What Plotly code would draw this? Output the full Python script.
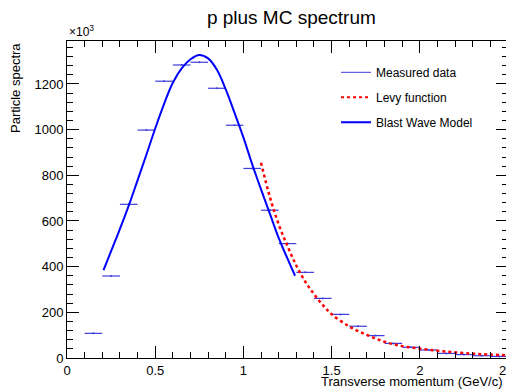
import plotly.graph_objects as go

# Measured data (bin centers, width 0.1 GeV/c), values in units of 10^3
bin_centers = [0.15, 0.25, 0.35, 0.45, 0.55, 0.65, 0.75, 0.85, 0.95, 1.05,
               1.15, 1.25, 1.35, 1.45, 1.55, 1.65, 1.75, 1.85, 1.95, 2.05,
               2.15, 2.25, 2.35, 2.45]
measured = [108, 359, 673, 998, 1212, 1283, 1295, 1181, 1019, 830,
            647, 501, 375, 261, 191, 139, 98, 64, 47, 35,
            20, 15, 10, 7]
bin_half_width = [0.05] * len(bin_centers)

# Levy function curve
levy_x = [1.10, 1.15, 1.20, 1.25, 1.30, 1.35, 1.40, 1.45, 1.50, 1.60,
          1.70, 1.80, 1.90, 2.00, 2.10, 2.20, 2.30, 2.40, 2.50]
levy_y = [855, 705, 585, 490, 405, 335, 280, 232, 192, 138,
          101, 71, 52, 41, 32, 25, 19, 15, 12]

# Blast Wave Model curve
bw_x = [0.207, 0.25, 0.30, 0.35, 0.40, 0.45, 0.50, 0.55, 0.60, 0.65,
        0.70, 0.75, 0.80, 0.85, 0.90, 0.95, 1.00, 1.05, 1.10, 1.15,
        1.20, 1.25, 1.293]
bw_y = [385, 468, 565, 667, 778, 890, 1005, 1112, 1205, 1268,
        1308, 1327, 1312, 1262, 1176, 1073, 966, 848, 738, 632,
        526, 435, 360]

FONT = "Liberation Sans, Arial, Helvetica, sans-serif"
DATA_COLOR = "#3c3cdc"

fig = go.Figure()

fig.add_trace(go.Scatter(
    x=bin_centers, y=measured, mode="markers",
    marker=dict(color=DATA_COLOR, size=2),
    error_x=dict(type="data", array=bin_half_width, color=DATA_COLOR,
                 thickness=1.2, width=0),
    showlegend=False, hoverinfo="x+y"))

fig.add_trace(go.Scatter(
    x=bw_x, y=bw_y, mode="lines", line=dict(color="#0000ff", width=2, shape="spline"),
    showlegend=False))

fig.add_trace(go.Scatter(
    x=levy_x, y=levy_y, mode="lines",
    line=dict(color="#ff0000", width=2.5, dash="dot", shape="spline"),
    showlegend=False))

# legend entries
fig.add_trace(go.Scatter(x=[None], y=[None], mode="lines",
                         line=dict(color=DATA_COLOR, width=1),
                         name="Measured data", legendgroup="a"))
fig.add_trace(go.Scatter(x=[None], y=[None], mode="lines",
                         line=dict(color="#ff0000", width=2, dash="dot"),
                         name="Levy function", legendgroup="b"))
fig.add_trace(go.Scatter(x=[None], y=[None], mode="lines",
                         line=dict(color="#0000ff", width=2),
                         name="Blast Wave Model", legendgroup="c"))

axis_common = dict(
    showline=True, linecolor="black", linewidth=1, mirror="ticks",
    ticks="inside", tickcolor="black", tickwidth=1,
    showgrid=False, zeroline=False, ticklabeloverflow="allow", automargin=False,
    tickfont=dict(family=FONT, size=13, color="black"),
)

fig.update_layout(
    width=506, height=382,
    paper_bgcolor="white", plot_bgcolor="white",
    margin=dict(l=59, r=6, t=33, b=32, autoexpand=False),
    font=dict(family=FONT, color="black"),
    title=dict(text="p plus MC spectrum", x=0.56, xanchor="center",
               y=0.975, yanchor="middle",
               font=dict(family=FONT, size=19, color="black")),
    xaxis=dict(range=[0, 2.5], tickvals=[0, 0.5, 1, 1.5, 2, 2.5],
               ticktext=["0", "0.5", "1", "1.5", "2", "2.5"], ticklen=12,
               minor=dict(ticks="inside", dtick=0.1, ticklen=6, tickcolor="black"),
               **axis_common),
    yaxis=dict(range=[0, 1388], tickvals=[0, 200, 400, 600, 800, 1000, 1200],
               ticklen=12,
               minor=dict(ticks="inside", dtick=40, ticklen=6, tickcolor="black"),
               **axis_common),
    legend=dict(x=0.61, y=0.947, xanchor="left", yanchor="top",
                bgcolor="rgba(0,0,0,0)", tracegroupgap=6,
                font=dict(family=FONT, size=12, color="black")),
    annotations=[
        dict(text="Transverse momentum (GeV/c)", xref="paper", yref="paper",
             x=1.0, y=0, xanchor="right", yanchor="top", yshift=-14, xshift=-3,
             showarrow=False, font=dict(family=FONT, size=13, color="black")),
        dict(text="Particle spectra", xref="paper", yref="paper",
             x=0, y=1.0, xanchor="center", yanchor="top", xshift=-52,
             textangle=-90, showarrow=False,
             font=dict(family=FONT, size=13, color="black")),
        dict(text="×10<sup>3</sup>", xref="paper", yref="paper",
             x=0, y=1.0, xanchor="left", yanchor="bottom", xshift=0,
             showarrow=False, font=dict(family=FONT, size=12, color="black")),
    ],
)

fig.write_html("out.html")
